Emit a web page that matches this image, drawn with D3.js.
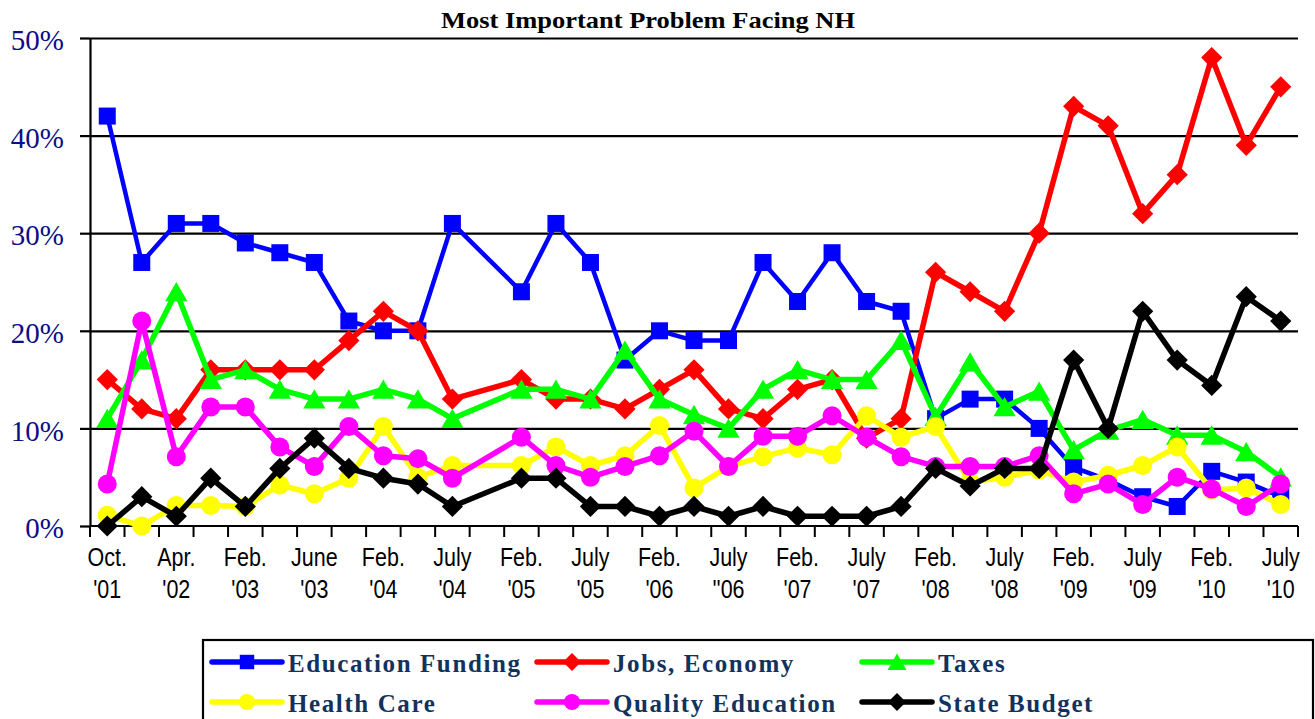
<!DOCTYPE html>
<html>
<head>
<meta charset="utf-8">
<script src="https://cdn.jsdelivr.net/npm/d3@7"></script>
<style>
  body { margin: 0; background: #fff; }
</style>
</head>
<body>
<div id="vis"></div>
<script>
var width = 1315
var height = 719

// survey dates (blank = unlabeled survey between two labeled ones)
var periods = ["Oct. '01", "", "Apr. '02", "", "Feb. '03", "", "June '03", "", "Feb. '04", "",
  "July '04", "", "Feb. '05", "", "July '05", "", "Feb. '06", "", "July ''06", "",
  "Feb. '07", "", "July '07", "", "Feb. '08", "", "July '08", "", "Feb. '09", "",
  "July '09", "", "Feb. '10", "", "July '10"]

// percent naming each problem (null = no value for that survey)
var eduFunding = [42, 27, 31, 31, 29, 28, 27, 21, 20, 20, 31, null, 24, 31, 27, 17, 20, 19, 19, 27, 23, 28, 23, 22, 11, 13, 13, 10, 6, 4.7, 3, 2, 5.6, 4.5, 3]
var jobsEconomy = [15, 12, 11, 16, 16, 16, 16, 19, 22, 20, 13, null, 15, 13, 13, 12, 14, 16, 12, 11, 14, 15, 9, 11, 26, 24, 22, 30, 43, 41, 32, 36, 48, 39, 45]
var taxes = [11, 17, 24, 15, 16, 14, 13, 13, 14, 13, 11, null, 14, 14, 13, 18, 13, 11.4, 10, 14, 16, 15, 15, 19, 11.2, 16.8, 12.2, 13.8, 7.8, 9.8, 10.9, 9.3, 9.3, 7.6, 5]
var healthCare = [1.1, 0, 2.1, 2.1, 2, 4.2, 3.3, 4.9, 10.2, 5, 6.2, null, 6.2, 8.1, 6.2, 7.2, 10.3, 3.9, 6.1, 7.1, 8, 7.3, 11.3, 9.1, 10.2, 4.5, 5, 5.7, 4.5, 5.2, 6.2, 8.1, 3.7, 3.9, 2.2]
var qualityEd = [4.3, 21, 7.1, 12.2, 12.2, 8.1, 6.1, 10.2, 7.2, 6.9, 4.9, null, 9.1, 6.2, 5, 6.1, 7.2, 9.7, 6.1, 9.2, 9.2, 11.3, 9.1, 7.1, 6.1, 6.1, 6.1, 7.2, 3.3, 4.3, 2.2, 5, 3.8, 2, 4.3]
var stateBudget = [0, 3, 1, 4.9, 2, 5.9, 9, 5.9, 4.9, 4.3, 2, null, 4.9, 4.9, 2, 2, 1, 2, 1, 2, 1, 1, 1, 2, 5.9, 4.1, 5.9, 5.9, 17, 10, 22, 17, 14.4, 23.5, 21]

var seriesNames = ["Education Funding", "Jobs, Economy", "Taxes", "Health Care", "Quality Education", "State Budget"]
var seriesValues = [eduFunding, jobsEconomy, taxes, healthCare, qualityEd, stateBudget]
var seriesColors = ["#0000ff", "#ff0000", "#00ff00", "#ffff00", "#ff00ff", "#000000"]
var seriesMarkers = ["square", "diamond", "triangle", "circle", "circle", "diamond"]
var yTicks = [0, 10, 20, 30, 40, 50]

var svg = d3.select("#vis")
  .append("svg")
  .attr("width", width)
  .attr("height", height)
  .style("display", "block")
  .style("background-color", "#fff")

var x = d3.scaleBand().domain(d3.range(periods.length)).range([90, 1298])
var y = d3.scaleLinear().domain([0, 50]).range([526, 38])
var cx = function(i) { return x(i) + x.bandwidth() / 2 }

// title
svg.append("text")
  .attr("x", 648)
  .attr("y", 28)
  .attr("text-anchor", "middle")
  .style("font-family", "'Liberation Serif', 'Times New Roman', serif")
  .style("font-weight", "bold")
  .style("font-size", "24px")
  .attr("textLength", 414)
  .attr("lengthAdjust", "spacingAndGlyphs")
  .text("Most Important Problem Facing NH")

// gridlines
var grid = svg.append("g")
  .attr("transform", "translate(90,0)")
  .call(d3.axisLeft(y).tickValues(yTicks.slice(1)).tickSize(-(x.range()[1] - x.range()[0])).tickFormat(""))
grid.select(".domain").remove()
grid.selectAll("line").attr("stroke", "#000").attr("stroke-width", 2.2)

// y axis
var yAxis = svg.append("g")
  .attr("transform", "translate(90,0)")
  .call(d3.axisLeft(y).tickValues(yTicks).tickSize(10).tickSizeOuter(0).tickPadding(16).tickFormat(function(d) { return d + "%" }))
yAxis.select(".domain").attr("stroke", "#000").attr("stroke-width", 2.2)
yAxis.selectAll("line").attr("stroke", "#000").attr("stroke-width", 2.2)
yAxis.selectAll("text")
  .attr("dy", "0.4em")
  .attr("fill", "#0d0d85")
  .style("font-family", "'Liberation Serif', 'Times New Roman', serif")
  .style("font-size", "29px")

// x axis
var xAxis = svg.append("g")
xAxis.append("line")
  .attr("x1", x.range()[0]).attr("x2", x.range()[1])
  .attr("y1", y(0)).attr("y2", y(0))
  .attr("stroke", "#000").attr("stroke-width", 2.2)
xAxis.selectAll(".tick")
  .data(d3.range(periods.length + 1))
  .enter().append("line")
  .attr("x1", function(i) { return x.range()[0] + i * x.step() })
  .attr("x2", function(i) { return x.range()[0] + i * x.step() })
  .attr("y1", y(0))
  .attr("y2", y(0) + 11)
  .attr("stroke", "#000").attr("stroke-width", 2)

// narrow sans labels (Arial Narrow look): Liberation Sans squeezed horizontally
var xLabels = xAxis.selectAll(".xlab")
  .data(periods.map(function(p, i) { return { i: i, p: p } }).filter(function(d) { return d.p !== "" }))
  .enter().append("text")
  .attr("transform", function(d) { return "translate(" + cx(d.i) + ",0) scale(0.86,1)" })
  .attr("text-anchor", "middle")
  .style("font-family", "'Liberation Sans', Arial, sans-serif")
  .style("font-size", "25px")
  .attr("fill", "#000")
xLabels.append("tspan")
  .attr("x", 0)
  .attr("y", 566)
  .text(function(d) { return d.p.split(" ")[0] })
xLabels.append("tspan")
  .attr("x", 0)
  .attr("y", 598)
  .text(function(d) { return d.p.split(" ")[1] })

// markers
function addMarker(g, type, color, big) {
  var k = big ? 1 : 0.85
  if (type === "square") {
    g.append("rect").attr("x", -8.5 * k).attr("y", -8.5 * k).attr("width", 17 * k).attr("height", 17 * k).attr("fill", color)
  } else if (type === "diamond") {
    g.append("path").attr("d", d3.symbol(d3.symbolSquare, 15 * 15 * k * k)()).attr("transform", "rotate(45)").attr("fill", color)
  } else if (type === "triangle") {
    g.append("path").attr("d", d3.symbol(d3.symbolTriangle, 215 * k * k)()).attr("transform", "translate(0," + 3 * k + ")").attr("fill", color)
  } else {
    g.append("circle").attr("r", 9.5 * k).attr("fill", color)
  }
}

var line = d3.line()
  .x(function(d) { return cx(d.i) })
  .y(function(d) { return y(d.v) })

seriesValues.forEach(function(vals, s) {
  var pts = vals.map(function(v, i) { return { i: i, v: v } }).filter(function(d) { return d.v !== null })
  var g = svg.append("g")
  g.append("path")
    .attr("d", line(pts))
    .attr("fill", "none")
    .attr("stroke", seriesColors[s])
    .attr("stroke-width", s === 0 ? 4.5 : 5.5)
    .attr("stroke-linejoin", "round")
  g.selectAll(".m")
    .data(pts)
    .enter().append("g")
    .attr("transform", function(d) { return "translate(" + cx(d.i) + "," + y(d.v) + ")" })
    .each(function() { addMarker(d3.select(this), seriesMarkers[s], seriesColors[s], true) })
})

// legend
var legend = svg.append("g")
legend.append("rect")
  .attr("x", 203).attr("y", 640)
  .attr("width", 1110).attr("height", 100)
  .attr("fill", "none").attr("stroke", "#000").attr("stroke-width", 2.2)

seriesNames.forEach(function(name, s) {
  var col = s % 3, row = Math.floor(s / 3)
  var lx = 212 + col * 325
  var ly = 662 + row * 40
  var item = legend.append("g")
  item.append("line")
    .attr("x1", lx).attr("x2", lx + 70)
    .attr("y1", ly).attr("y2", ly)
    .attr("stroke", seriesColors[s]).attr("stroke-width", 5.5)
    .attr("stroke-linecap", "round")
  var mk = item.append("g").attr("transform", "translate(" + (lx + 35) + "," + ly + ")")
  addMarker(mk, seriesMarkers[s], seriesColors[s], false)
  item.append("text")
    .attr("x", lx + 76)
    .attr("y", ly + 10)
    .attr("fill", "#12325e")
    .style("font-family", "'Liberation Serif', 'Times New Roman', serif")
    .style("font-weight", "bold")
    .style("font-size", "25px")
    .style("letter-spacing", "1.6px")
    .text(name)
})
</script>
</body>
</html>
